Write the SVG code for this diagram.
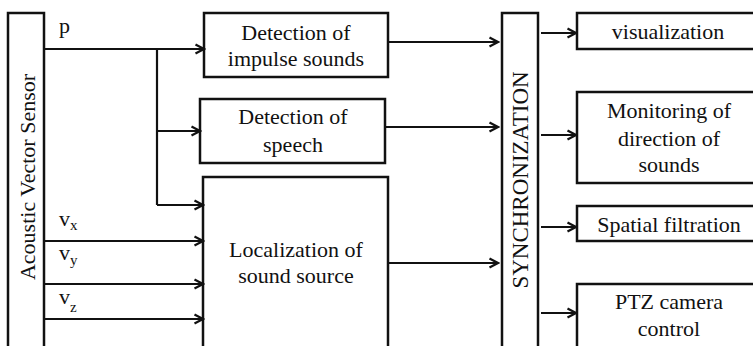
<svg xmlns="http://www.w3.org/2000/svg" width="753" height="346" viewBox="0 0 753 346" font-family="Liberation Serif" font-size="22">
<defs>
<style>
.box{fill:#fff;stroke:#111;stroke-width:2.5}
.ln{fill:none;stroke:#111;stroke-width:2.2}
.ar{fill:none;stroke:#111;stroke-width:2.2;marker-end:url(#ah)}
text{fill:#111}
.c{text-anchor:middle}
.sub{font-size:15px}
</style>
<marker id="ah" markerUnits="userSpaceOnUse" markerWidth="12" markerHeight="12" viewBox="0 0 12 12" refX="10" refY="6" orient="auto">
<path d="M1.5,1.5 L10,6 L1.5,10.5" fill="none" stroke="#111" stroke-width="2.2"/>
</marker>
</defs>
<rect width="753" height="346" fill="#fff"/>
<g id="sensor">
<rect class="box" x="8" y="13" width="36" height="350"/>
<text class="c" font-family="Liberation Serif" transform="translate(35,177) rotate(-90)">Acoustic Vector Sensor</text>
</g>
<g id="impulse">
<rect class="box" x="204" y="13" width="184" height="64"/>
<text class="c" font-family="Liberation Serif" x="296" y="40">Detection of</text>
<text class="c" font-family="Liberation Serif" x="296" y="66">impulse sounds</text>
</g>
<g id="speech">
<rect class="box" x="200" y="99" width="185" height="64"/>
<text class="c" font-family="Liberation Serif" x="293" y="124">Detection of</text>
<text class="c" font-family="Liberation Serif" x="293" y="152">speech</text>
</g>
<g id="localization">
<rect class="box" x="203" y="177" width="185" height="190"/>
<text class="c" font-family="Liberation Serif" x="296" y="257">Localization of</text>
<text class="c" font-family="Liberation Serif" x="296" y="283">sound source</text>
</g>
<g id="sync">
<rect class="box" x="502" y="13" width="36" height="350"/>
<text class="c" font-family="Liberation Serif" font-size="23" transform="translate(528,180) rotate(-90)">SYNCHRONIZATION</text>
</g>
<g id="visualization">
<rect class="box" x="577" y="13" width="190" height="36"/>
<text class="c" font-family="Liberation Serif" x="668" y="39">visualization</text>
</g>
<g id="monitoring">
<rect class="box" x="577" y="92" width="190" height="91"/>
<text class="c" font-family="Liberation Serif" x="669" y="118">Monitoring of</text>
<text class="c" font-family="Liberation Serif" x="669" y="146">direction of</text>
<text class="c" font-family="Liberation Serif" x="669" y="172">sounds</text>
</g>
<g id="spatial">
<rect class="box" x="577" y="206" width="190" height="35"/>
<text class="c" font-family="Liberation Serif" x="669" y="232">Spatial filtration</text>
</g>
<g id="ptz">
<rect class="box" x="577" y="284" width="190" height="80"/>
<text class="c" font-family="Liberation Serif" x="669" y="309">PTZ camera</text>
<text class="c" font-family="Liberation Serif" x="669" y="336">control</text>
</g>
<g id="connectors">
<path class="ar" d="M44,49 H204"/>
<path class="ln" d="M157,49 V205"/>
<path class="ar" d="M157,131 H200"/>
<path class="ar" d="M157,205 H203"/>
<path class="ar" d="M44,241 H203"/>
<path class="ar" d="M44,284 H203"/>
<path class="ar" d="M44,319 H203"/>
<path class="ar" d="M388,42 H498"/>
<path class="ar" d="M385,127 H498"/>
<path class="ar" d="M388,263 H498"/>
<path class="ar" d="M541,33 H576"/>
<path class="ar" d="M541,135 H576"/>
<path class="ar" d="M541,227 H576"/>
<path class="ar" d="M541,313 H576"/>
<text font-family="Liberation Serif" x="59" y="33">p</text>
<text font-family="Liberation Serif" x="59" y="226">v<tspan class="sub" dy="4">x</tspan></text>
<text font-family="Liberation Serif" x="59" y="260">v<tspan class="sub" dy="5">y</tspan></text>
<text font-family="Liberation Serif" x="59" y="304">v<tspan class="sub" dy="8">z</tspan></text>
</g>
</svg>
